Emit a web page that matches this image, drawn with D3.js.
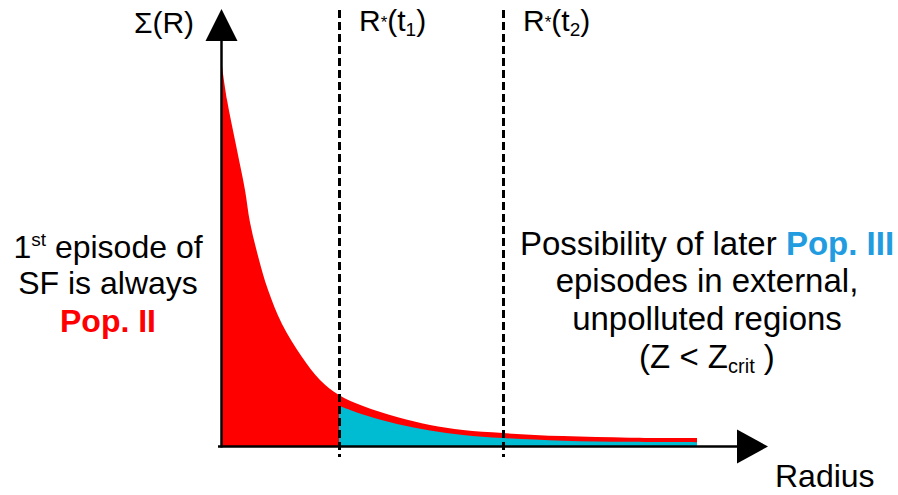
<!DOCTYPE html>
<html>
<head>
<meta charset="utf-8">
<script src="https://cdn.jsdelivr.net/npm/d3@7"></script>
<style>
  html, body { margin: 0; padding: 0; background: #fff; }
  svg text { font-family: "Liberation Sans", Arial, sans-serif; fill: #000; }
</style>
</head>
<body>
<svg id="chart"></svg>
<script>
// surface density profile (arbitrary units 0-100)
var radius = [0, 1.05, 3.16, 4.84, 5.89, 7.58, 9.68, 12.63, 16.84, 20.63, 24.63, 29.68, 36.84, 43.79, 50.74, 59.16, 71.79, 85.89, 100];
var sigma  = [100, 91.1, 77.9, 67.4, 58.9, 50.0, 41.1, 32.1, 23.4, 17.4, 13.4, 10.5, 7.6, 5.5, 4.2, 3.4, 2.6, 2.2, 2.1];
// unpolluted (Pop. III) part, from R*(t1) outwards
var outerRadius = [24.63, 29.68, 36.84, 43.79, 50.74, 59.16, 71.79, 85.89, 100];
var outerSigma  = [10.6, 8.3, 5.8, 4.1, 2.9, 2.1, 1.4, 1.1, 1.0];
// R*(t1), R*(t2)
var tStar = [24.63, 59.16];
var tLabels = ['1', '2'];

var width = 898, height = 495;

var svg = d3.select('#chart')
  .attr('width', width)
  .attr('height', height);

var x = d3.scaleLinear().domain([0, 100]).range([222, 697]);
var y = d3.scaleLinear().domain([0, 100]).range([446, 66]);

var popII = radius.map((r, i) => [r, sigma[i]]);
var popIII = outerRadius.map((r, i) => [r, outerSigma[i]]);

var area = d3.area()
  .x(d => x(d[0]))
  .y0(y(0))
  .y1(d => y(d[1]))
  .curve(d3.curveCatmullRom.alpha(0.5));

svg.append('path')
  .datum(popII)
  .attr('d', area)
  .attr('fill', '#ff0000');

svg.append('path')
  .datum(popIII)
  .attr('d', area)
  .attr('fill', '#00bcd2');

// dashed lines
svg.selectAll('.tline')
  .data(tStar)
  .enter().append('line')
  .attr('class', 'tline')
  .attr('x1', d => Math.round(x(d)) + 0.5)
  .attr('x2', d => Math.round(x(d)) + 0.5)
  .attr('y1', 10)
  .attr('y2', 457)
  .attr('stroke', '#000')
  .attr('stroke-width', 3)
  .attr('stroke-dasharray', '8,4');

// axes with arrow heads
var x0 = x(0) - 0.5, y0 = y(0) + 0.5;
svg.append('line')
  .attr('x1', x0).attr('x2', x0)
  .attr('y1', y0 + 1).attr('y2', 38)
  .attr('stroke', '#000').attr('stroke-width', 2.5);
svg.append('path')
  .attr('d', 'M' + x0 + ',9 L' + (x0 - 16) + ',41 L' + (x0 + 16) + ',41 Z')
  .attr('fill', '#000');

svg.append('line')
  .attr('x1', 218).attr('x2', 740)
  .attr('y1', y0).attr('y2', y0)
  .attr('stroke', '#000').attr('stroke-width', 2.5);
svg.append('path')
  .attr('d', 'M768,' + y0 + ' L737,' + (y0 - 17) + ' L737,' + (y0 + 17) + ' Z')
  .attr('fill', '#000');

// axis titles
svg.append('text')
  .attr('x', 164).attr('y', 33)
  .attr('text-anchor', 'middle')
  .style('font-size', '30px')
  .text('Σ(R)');

svg.append('text')
  .attr('x', 775).attr('y', 487)
  .style('font-size', '32px')
  .text('Radius');

// R*(t) labels
tStar.forEach((t, i) => {
  var lab = svg.append('text')
    .attr('x', x(t) + 20).attr('y', 31)
    .style('font-size', '30px');
  lab.append('tspan').text('R');
  lab.append('tspan').attr('dy', -3).style('font-size', '17px').text('*');
  lab.append('tspan').attr('dy', 3).text('(t');
  lab.append('tspan').attr('dy', 5).style('font-size', '19px').text(tLabels[i]);
  lab.append('tspan').attr('dy', -5).text(')');
});

// left annotation
var left = svg.append('g').attr('text-anchor', 'middle').style('font-size', '32px');
var l1 = left.append('text').attr('x', 108).attr('y', 258);
l1.append('tspan').text('1');
l1.append('tspan').attr('dy', -12).style('font-size', '19px').text('st');
l1.append('tspan').attr('dy', 12).text(' episode of');
left.append('text').attr('x', 108).attr('y', 294).text('SF is always');
left.append('text').attr('x', 108).attr('y', 332)
  .style('font-weight', 'bold').style('fill', '#ff0000').text('Pop. II');

// right annotation
var right = svg.append('g').attr('text-anchor', 'middle').style('font-size', '33px');
var r1 = right.append('text').attr('x', 707).attr('y', 255);
r1.append('tspan').text('Possibility of later ');
r1.append('tspan').style('font-weight', 'bold').style('fill', '#229ce0').text('Pop. III');
right.append('text').attr('x', 707).attr('y', 292).text('episodes in external,');
right.append('text').attr('x', 707).attr('y', 330).text('unpolluted regions');
var r4 = right.append('text').attr('x', 707).attr('y', 368);
r4.append('tspan').text('(Z < Z');
r4.append('tspan').attr('dy', 5).style('font-size', '20px').text('crit');
r4.append('tspan').attr('dy', -5).text(' )');
</script>
</body>
</html>
